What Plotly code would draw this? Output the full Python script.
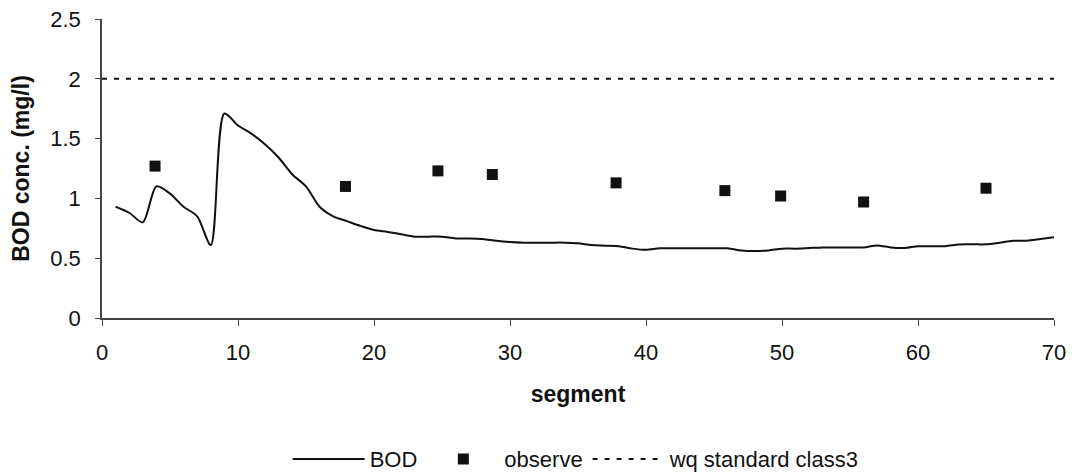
import plotly.graph_objects as go

# BOD model output per segment
segments = list(range(1, 71))
bod = [0.93, 0.88, 0.80, 1.10, 1.04, 0.93, 0.85, 0.61, 1.71, 1.61,
       1.54, 1.45, 1.34, 1.20, 1.10, 0.93, 0.85, 0.81, 0.77, 0.735,
       0.72, 0.70, 0.68, 0.68, 0.68, 0.665, 0.665, 0.66, 0.645, 0.635,
       0.63, 0.63, 0.63, 0.63, 0.625, 0.61, 0.605, 0.60, 0.58, 0.57,
       0.583, 0.583, 0.583, 0.583, 0.583, 0.583, 0.565, 0.56, 0.565, 0.58,
       0.58, 0.585, 0.59, 0.59, 0.59, 0.59, 0.607, 0.59, 0.585, 0.60,
       0.60, 0.60, 0.615, 0.616, 0.616, 0.63, 0.645, 0.646, 0.66, 0.675]

# observed values
obs_seg = [3.9, 17.9, 24.7, 28.7, 37.8, 45.8, 49.9, 56.0, 65.0]
obs_val = [1.27, 1.10, 1.23, 1.20, 1.13, 1.065, 1.02, 0.97, 1.085]

# water quality standard class 3
std_seg = [0, 70]
std_val = [2.0, 2.0]

FONT = "Arial, Liberation Sans, sans-serif"

fig = go.Figure()
fig.add_trace(go.Scatter(x=segments, y=bod, mode="lines", name="BOD",
                         line=dict(color="#111111", width=2, shape="spline", smoothing=0.8)))
fig.add_trace(go.Scatter(x=obs_seg, y=obs_val, mode="markers", name="observe",
                         marker=dict(symbol="square", size=11, color="#111111")))
fig.add_trace(go.Scatter(x=std_seg, y=std_val, mode="lines", name="wq standard class3",
                         line=dict(color="#111111", width=2, dash="5px,7px")))

# page body has an 8px default margin, so the figure is sized 8px smaller
fig.update_layout(
    width=1070, height=466,
    margin=dict(l=94, r=24, t=11, b=156),
    paper_bgcolor="white", plot_bgcolor="white",
    font=dict(family=FONT, color="#111111", size=22),
    showlegend=True,
    legend=dict(orientation="h", xref="container", yref="container",
                x=0.531, xanchor="center", y=0.032, yanchor="middle",
                font=dict(size=22), bgcolor="rgba(0,0,0,0)", itemwidth=72),
    xaxis=dict(range=[0, 70], tickvals=[0, 10, 20, 30, 40, 50, 60, 70],
               automargin=False, ticklabeloverflow="allow",
               showgrid=False, zeroline=False, showline=True, linecolor="#444444", linewidth=1.5,
               ticks="outside", ticklen=6, tickcolor="#444444", ticklabelstandoff=8,
               tickfont=dict(size=22),
               title=dict(text="<b>segment</b>", font=dict(size=23), standoff=22)),
    yaxis=dict(range=[0, 2.5], tickvals=[0, 0.5, 1, 1.5, 2, 2.5],
               ticktext=["0", "0.5", "1", "1.5", "2", "2.5"],
               automargin=False, ticklabeloverflow="allow",
               showgrid=False, zeroline=False, showline=True, linecolor="#444444", linewidth=1.5,
               ticks="outside", ticklen=5, tickcolor="#444444", ticklabelstandoff=10,
               tickfont=dict(size=22),
               title=dict(text="<b>BOD conc. (mg/l)</b>", font=dict(size=23), standoff=16)),
)

fig.write_html("out.html")
